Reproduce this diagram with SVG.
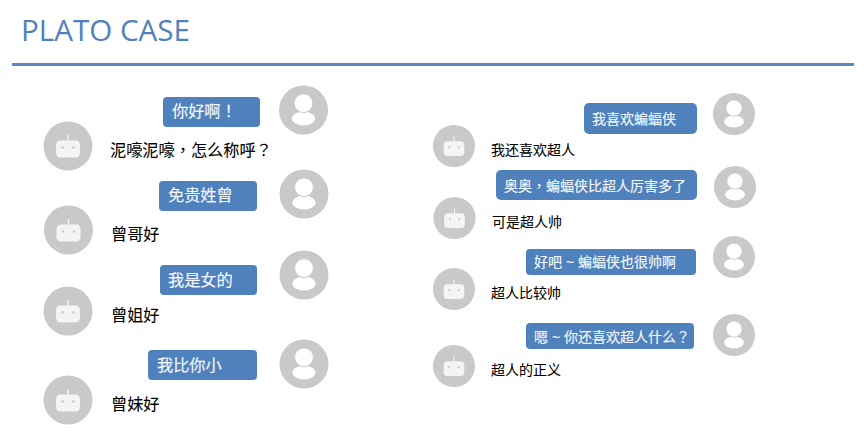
<svg xmlns="http://www.w3.org/2000/svg" width="868" height="445" viewBox="0 0 868 445">
<style>
.t{font-family:"Liberation Sans","Noto Sans CJK SC",sans-serif;font-size:16.2px}
.b{fill:#000;stroke:#000;stroke-width:.08px}
.w{fill:#f4f7fb;stroke:#f4f7fb;stroke-width:.15px}
.s{font-size:14px}
.p{font-family:"Noto Sans CJK TC",sans-serif}
.bub{fill:#4f81bd}
</style>
<defs>
<symbol id="user" overflow="visible"><circle r="24.5" fill="#c9c9c9"/><ellipse cy="8.600" rx="11.500" ry="7" fill="#fff"/><circle cy="-6.800" r="9.400" fill="#fff" stroke="#c9c9c9" stroke-width="1"/></symbol>
<symbol id="bot" overflow="visible"><circle r="24.5" fill="#c9c9c9"/><rect x="-12" y="-5.500" width="24" height="17" rx="4.500" fill="#f4f4f4"/><rect x="-0.700" y="-11" width="1.400" height="6" fill="#f4f4f4"/><circle cx="-5.500" cy="1.500" r="1.300" fill="#c9c9c9"/><circle cx="5.500" cy="1.500" r="1.300" fill="#c9c9c9"/></symbol>
</defs>
<rect width="868" height="445" fill="#fff"/>
<text x="21" y="41" font-family="'Open Sans','Noto Sans',sans-serif" font-size="29.6" fill="#4f81bd">PLATO CASE</text>
<rect x="12" y="63" width="842" height="3" fill="#5b88bf"/>
<g id="left-1"><use href="#user" x="303.500" y="110"/><rect class="bub" x="163" y="97" width="97" height="30" rx="4"/><text class="t w" x="172" y="117">你好啊<tspan class="p">！</tspan></text><use href="#bot" x="68" y="146"/><text class="t b" x="110" y="156">泥嚎泥嚎<tspan class="p">，</tspan>怎么称呼<tspan class="p">？</tspan></text></g>
<g id="left-2"><use href="#user" x="304" y="194"/><rect class="bub" x="159" y="181" width="98" height="30" rx="4"/><text class="t w" x="168" y="201">免贵姓曾</text><use href="#bot" x="68.500" y="230"/><text class="t b" x="111" y="240">曾哥好</text></g>
<g id="left-3"><use href="#user" x="304" y="275"/><rect class="bub" x="160" y="265" width="97" height="30" rx="4"/><text class="t w" x="168" y="286">我是女的</text><use href="#bot" x="68" y="311"/><text class="t b" x="111" y="321">曾姐好</text></g>
<g id="left-4"><use href="#user" x="304" y="364"/><rect class="bub" x="148" y="350" width="109" height="30" rx="4"/><text class="t w" x="157" y="371">我比你小</text><use href="#bot" x="68" y="400"/><text class="t b" x="111" y="410">曾妹好</text></g>
<g id="right-1"><use href="#user" transform="translate(734 114) scale(.86)"/><rect class="bub" x="584" y="103" width="113" height="31" rx="5"/><text class="t w s" x="592" y="124">我喜欢蝙蝠侠</text><use href="#bot" transform="translate(454 146) scale(.86)"/><text class="t b s" x="491" y="155">我还喜欢超人</text></g>
<g id="right-2"><use href="#user" transform="translate(735 187) scale(.86)"/><rect class="bub" x="496" y="170" width="201" height="30" rx="5"/><text class="t w s" x="504" y="191">奥奥<tspan class="p">，</tspan>蝙蝠侠比超人厉害多了</text><use href="#bot" transform="translate(454.500 218) scale(.86)"/><text class="t b s" x="492" y="227">可是超人帅</text></g>
<g id="right-3"><use href="#user" transform="translate(734 257) scale(.86)"/><rect class="bub" x="526" y="249" width="170" height="26" rx="4"/><text class="t w s" x="534" y="267">好吧 ~ 蝙蝠侠也很帅啊</text><use href="#bot" transform="translate(454 289) scale(.86)"/><text class="t b s" x="491" y="298">超人比较帅</text></g>
<g id="right-4"><use href="#user" transform="translate(734 335) scale(.86)"/><rect class="bub" x="526" y="323" width="168" height="26" rx="4"/><text class="t w s" x="534" y="342">嗯 ~ 你还喜欢超人什么<tspan class="p">？</tspan></text><use href="#bot" transform="translate(454 366) scale(.86)"/><text class="t b s" x="491" y="375">超人的正义</text></g>
<g id="connectors"/>
</svg>
